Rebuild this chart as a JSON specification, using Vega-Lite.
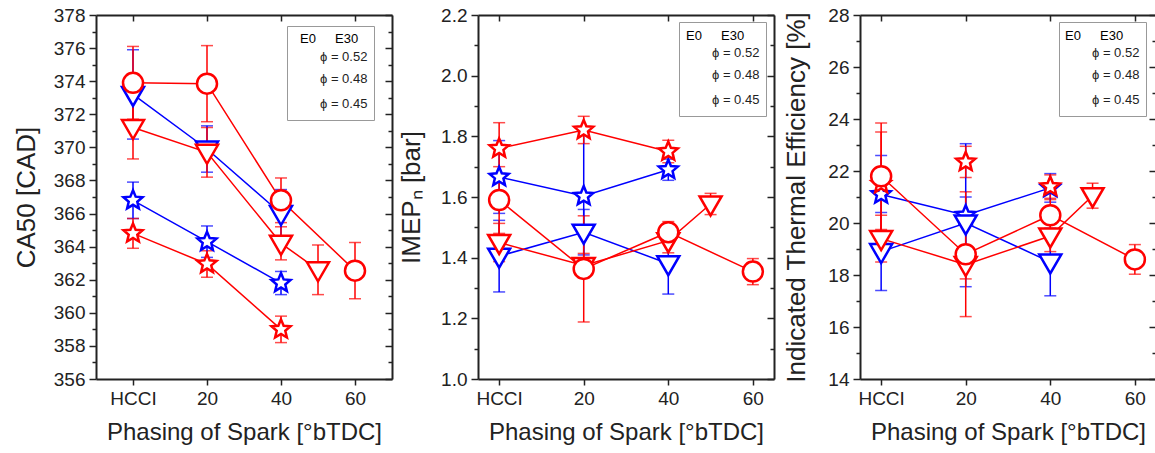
{
"$schema": "https://vega.github.io/schema/vega-lite/v6.json",
"background": "white",
"padding": {"left": 13, "top": 6, "right": 0, "bottom": 2},
"bounds": "flush",
"spacing": 86,
"config": {
  "font": "Liberation Sans",
  "view": {"stroke": null},
  "axis": {"labelFont": "Liberation Sans", "labelFontSize": 19, "labelColor": "#222", "titleFont": "Liberation Sans", "titleFontWeight": "normal", "titleColor": "#222", "domainColor": "#222", "domainWidth": 2, "tickColor": "#222", "tickWidth": 1.5, "grid": false, "labelOverlap": false, "labelFlush": false},
  "legend": {"labelFont": "Liberation Sans", "titleFont": "Liberation Sans"}
},
"datasets": {"d": [
  {"panel": "ca50", "fuel": "E0", "phi": "0.52", "x": 0, "v": 366.8, "e": 1.1},
  {"panel": "ca50", "fuel": "E0", "phi": "0.52", "x": 20, "v": 364.3, "e": 0.95},
  {"panel": "ca50", "fuel": "E0", "phi": "0.52", "x": 40, "v": 361.8, "e": 0.7},
  {"panel": "ca50", "fuel": "E0", "phi": "0.48", "x": 0, "v": 373.2, "e": 2.7},
  {"panel": "ca50", "fuel": "E0", "phi": "0.48", "x": 20, "v": 369.9, "e": 1.4},
  {"panel": "ca50", "fuel": "E0", "phi": "0.48", "x": 40, "v": 366.0, "e": 1.45},
  {"panel": "ca50", "fuel": "E30", "phi": "0.52", "x": 0, "v": 364.8, "e": 0.9},
  {"panel": "ca50", "fuel": "E30", "phi": "0.52", "x": 20, "v": 362.95, "e": 0.8},
  {"panel": "ca50", "fuel": "E30", "phi": "0.52", "x": 40, "v": 359.0, "e": 0.8},
  {"panel": "ca50", "fuel": "E30", "phi": "0.48", "x": 0, "v": 371.2, "e": 1.9},
  {"panel": "ca50", "fuel": "E30", "phi": "0.48", "x": 20, "v": 369.7, "e": 1.5},
  {"panel": "ca50", "fuel": "E30", "phi": "0.48", "x": 40, "v": 364.2, "e": 1.0},
  {"panel": "ca50", "fuel": "E30", "phi": "0.48", "x": 50, "v": 362.6, "e": 1.5},
  {"panel": "ca50", "fuel": "E30", "phi": "0.45", "x": 0, "v": 373.9, "e": 2.2},
  {"panel": "ca50", "fuel": "E30", "phi": "0.45", "x": 20, "v": 373.85, "e": 2.3},
  {"panel": "ca50", "fuel": "E30", "phi": "0.45", "x": 40, "v": 366.8, "e": 1.35},
  {"panel": "ca50", "fuel": "E30", "phi": "0.45", "x": 60, "v": 362.55, "e": 1.7},
  {"panel": "imep", "fuel": "E0", "phi": "0.52", "x": 0, "v": 1.666, "e": 0.12},
  {"panel": "imep", "fuel": "E0", "phi": "0.52", "x": 20, "v": 1.603, "e": 0.21},
  {"panel": "imep", "fuel": "E0", "phi": "0.52", "x": 40, "v": 1.69, "e": 0.035},
  {"panel": "imep", "fuel": "E0", "phi": "0.48", "x": 0, "v": 1.405, "e": 0.118},
  {"panel": "imep", "fuel": "E0", "phi": "0.48", "x": 20, "v": 1.484, "e": 0.075},
  {"panel": "imep", "fuel": "E0", "phi": "0.48", "x": 40, "v": 1.38, "e": 0.1},
  {"panel": "imep", "fuel": "E30", "phi": "0.52", "x": 0, "v": 1.76, "e": 0.085},
  {"panel": "imep", "fuel": "E30", "phi": "0.52", "x": 20, "v": 1.821, "e": 0.045},
  {"panel": "imep", "fuel": "E30", "phi": "0.52", "x": 40, "v": 1.75, "e": 0.037},
  {"panel": "imep", "fuel": "E30", "phi": "0.48", "x": 0, "v": 1.45, "e": 0.063},
  {"panel": "imep", "fuel": "E30", "phi": "0.48", "x": 20, "v": 1.374, "e": 0.04},
  {"panel": "imep", "fuel": "E30", "phi": "0.48", "x": 40, "v": 1.456, "e": 0.04},
  {"panel": "imep", "fuel": "E30", "phi": "0.48", "x": 50, "v": 1.577, "e": 0.035},
  {"panel": "imep", "fuel": "E30", "phi": "0.45", "x": 0, "v": 1.59, "e": 0.11},
  {"panel": "imep", "fuel": "E30", "phi": "0.45", "x": 20, "v": 1.363, "e": 0.175},
  {"panel": "imep", "fuel": "E30", "phi": "0.45", "x": 40, "v": 1.484, "e": 0.035},
  {"panel": "imep", "fuel": "E30", "phi": "0.45", "x": 60, "v": 1.354, "e": 0.043},
  {"panel": "ite", "fuel": "E0", "phi": "0.52", "x": 0, "v": 21.1, "e": 1.5},
  {"panel": "ite", "fuel": "E0", "phi": "0.52", "x": 20, "v": 20.3, "e": 2.75},
  {"panel": "ite", "fuel": "E0", "phi": "0.52", "x": 40, "v": 21.35, "e": 0.55},
  {"panel": "ite", "fuel": "E0", "phi": "0.48", "x": 0, "v": 18.9, "e": 1.5},
  {"panel": "ite", "fuel": "E0", "phi": "0.48", "x": 20, "v": 20.0, "e": 1.0},
  {"panel": "ite", "fuel": "E0", "phi": "0.48", "x": 40, "v": 18.5, "e": 1.3},
  {"panel": "ite", "fuel": "E30", "phi": "0.52", "x": 0, "v": 21.5, "e": 2.0},
  {"panel": "ite", "fuel": "E30", "phi": "0.52", "x": 20, "v": 22.35, "e": 0.6},
  {"panel": "ite", "fuel": "E30", "phi": "0.52", "x": 40, "v": 21.4, "e": 0.45},
  {"panel": "ite", "fuel": "E30", "phi": "0.48", "x": 0, "v": 19.4, "e": 0.9},
  {"panel": "ite", "fuel": "E30", "phi": "0.48", "x": 20, "v": 18.4, "e": 0.55},
  {"panel": "ite", "fuel": "E30", "phi": "0.48", "x": 40, "v": 19.5, "e": 0.6},
  {"panel": "ite", "fuel": "E30", "phi": "0.48", "x": 50, "v": 21.05, "e": 0.48},
  {"panel": "ite", "fuel": "E30", "phi": "0.45", "x": 0, "v": 21.8, "e": 2.05},
  {"panel": "ite", "fuel": "E30", "phi": "0.45", "x": 20, "v": 18.8, "e": 2.4},
  {"panel": "ite", "fuel": "E30", "phi": "0.45", "x": 40, "v": 20.3, "e": 0.6},
  {"panel": "ite", "fuel": "E30", "phi": "0.45", "x": 60, "v": 18.6, "e": 0.57}
]},
"resolve": {"scale": {"color": "independent", "shape": "independent"}, "legend": {"color": "independent", "shape": "independent"}},
"hconcat": [
{
  "width": 296, "height": 364,
  "data": {"name": "d"},
  "transform": [{"filter": "datum.panel == 'ca50'"}],
  "resolve": {"axis": {"x": "independent", "y": "independent"}, "legend": {"color": "independent"}},
  "layer": [
    {"mark": {"type": "errorbar", "thickness": 1.5, "ticks": {"size": 12, "thickness": 1.5}},
     "encoding": {
       "x": {"field": "x", "type": "quantitative", "scale": {"domain": [-10, 70], "nice": false, "zero": false},
             "axis": {"orient": "bottom", "values": [0, 20, 40, 60], "labelExpr": "datum.value == 0 ? 'HCCI' : datum.label", "title": "Phasing of Spark [°bTDC]", "titleFontSize": 24, "tickSize": 6, "labelPadding": 4, "titlePadding": 12}},
       "y": {"field": "v", "type": "quantitative", "scale": {"domain": [356, 378], "nice": false, "zero": false},
             "axis": {"orient": "left", "values": [356,357,358,359,360,361,362,363,364,365,366,367,368,369,370,371,372,373,374,375,376,377,378], "tickSize": {"condition": {"test": "datum.value % 2 == 0", "value": 7}, "value": 4}, "labelExpr": "datum.value % 2 == 0 ? datum.label : ''", "title": "CA50 [CAD]", "titleFontSize": 26, "labelPadding": 4, "titlePadding": 14}},
       "yError": {"field": "e"},
       "color": {"field": "fuel", "type": "nominal", "scale": {"domain": ["E0", "E30"], "range": ["#0000ff", "#ff0000"]}, "legend": null}
     }},
    {"mark": {"type": "line", "strokeWidth": 1.5},
     "encoding": {
       "x": {"field": "x", "type": "quantitative", "axis": null},
       "y": {"field": "v", "type": "quantitative", "axis": null},
       "color": {"field": "fuel", "type": "nominal", "legend": null},
       "detail": {"field": "phi"}
     }},
    {"mark": {"type": "point", "filled": false, "fill": "white", "size": 400, "strokeWidth": 2.5, "opacity": 1},
     "encoding": {
       "x": {"field": "x", "type": "quantitative", "axis": {"orient": "top", "values": [0, 20, 40, 60], "labels": false, "title": null, "tickSize": -6}},
       "y": {"field": "v", "type": "quantitative", "axis": {"orient": "right", "values": [356,357,358,359,360,361,362,363,364,365,366,367,368,369,370,371,372,373,374,375,376,377,378], "labels": false, "title": null, "tickSize": {"condition": {"test": "datum.value % 2 == 0", "value": -7}, "value": -4}}},
       "color": {"field": "fuel", "type": "nominal", "legend": {"orient": "none", "legendX": 191, "legendY": 17, "zindex": 3, "title": null, "direction": "horizontal", "symbolSize": 0, "symbolOpacity": 0, "symbolStrokeWidth": 0, "labelOffset": 0, "columnPadding": 6, "labelFontSize": 13, "padding": 0,
         "encode": {"symbols": {"size": {"value": 0}, "opacity": {"value": 0}}, "labels": {"fill": {"condition": {"test": "datum.value == 'E0'", "value": "#0000ff"}, "value": "#ff0000"}}}}},
       "shape": {"field": "phi", "type": "nominal", "scale": {"domain": ["0.52", "0.48", "0.45"], "range": ["M0,-1L0.265,-0.364L0.951,-0.309L0.428,0.139L0.588,0.809L0,0.45L-0.588,0.809L-0.428,0.139L-0.951,-0.309L-0.265,-0.364Z", "M-1.1,-0.75L1.1,-0.75L0,1.15Z", "M1,0A1,1,0,1,1,-1,0A1,1,0,1,1,1,0Z"]},
         "legend": {"orient": "none", "legendX": 191, "legendY": 11, "title": "\u00a0", "titleFontSize": 13, "titlePadding": 4, "strokeColor": "#999", "padding": 6, "labelExpr": "'ϕ = ' + datum.label", "labelFontSize": 13, "labelColor": "#222", "symbolSize": 169, "symbolStrokeWidth": 2, "symbolStrokeColor": "#ff0000", "symbolFillColor": "#ffffff", "rowPadding": 3, "labelOffset": 12}}
     }}
  ]
},
{
  "width": 296, "height": 364,
  "data": {"name": "d"},
  "transform": [{"filter": "datum.panel == 'imep'"}],
  "resolve": {"axis": {"x": "independent", "y": "independent"}, "legend": {"color": "independent"}},
  "layer": [
    {"mark": {"type": "errorbar", "thickness": 1.5, "ticks": {"size": 12, "thickness": 1.5}},
     "encoding": {
       "x": {"field": "x", "type": "quantitative", "scale": {"domain": [-5, 65], "nice": false, "zero": false},
             "axis": {"orient": "bottom", "values": [0, 20, 40, 60], "labelExpr": "datum.value == 0 ? 'HCCI' : datum.label", "title": "Phasing of Spark [°bTDC]", "titleFontSize": 24, "tickSize": 6, "labelPadding": 4, "titlePadding": 12}},
       "y": {"field": "v", "type": "quantitative", "scale": {"domain": [1.0, 2.2], "nice": false, "zero": false},
             "axis": {"orient": "left", "values": [1.0,1.1,1.2,1.3,1.4,1.5,1.6,1.7,1.8,1.9,2.0,2.1,2.2], "tickSize": {"condition": {"test": "round(datum.value * 10) % 2 == 0", "value": 7}, "value": 4}, "labelExpr": "round(datum.value * 10) % 2 == 0 ? format(datum.value, '.1f') : ''", "title": "IMEPₙ [bar]", "titleFontSize": 26, "labelPadding": 4, "titlePadding": 16}},
       "yError": {"field": "e"},
       "color": {"field": "fuel", "type": "nominal", "scale": {"domain": ["E0", "E30"], "range": ["#0000ff", "#ff0000"]}, "legend": null}
     }},
    {"mark": {"type": "line", "strokeWidth": 1.5},
     "encoding": {
       "x": {"field": "x", "type": "quantitative", "axis": null},
       "y": {"field": "v", "type": "quantitative", "axis": null},
       "color": {"field": "fuel", "type": "nominal", "legend": null},
       "detail": {"field": "phi"}
     }},
    {"mark": {"type": "point", "filled": false, "fill": "white", "size": 400, "strokeWidth": 2.5, "opacity": 1},
     "encoding": {
       "x": {"field": "x", "type": "quantitative", "axis": {"orient": "top", "values": [0, 20, 40, 60], "labels": false, "title": null, "tickSize": -6}},
       "y": {"field": "v", "type": "quantitative", "axis": {"orient": "right", "values": [1.0,1.1,1.2,1.3,1.4,1.5,1.6,1.7,1.8,1.9,2.0,2.1,2.2], "labels": false, "title": null, "tickSize": {"condition": {"test": "round(datum.value * 10) % 2 == 0", "value": -7}, "value": -4}}},
       "color": {"field": "fuel", "type": "nominal", "legend": {"orient": "none", "legendX": 195, "legendY": 14, "zindex": 3, "title": null, "direction": "horizontal", "symbolSize": 0, "symbolOpacity": 0, "symbolStrokeWidth": 0, "labelOffset": 0, "columnPadding": 6, "labelFontSize": 13, "padding": 0,
         "encode": {"symbols": {"size": {"value": 0}, "opacity": {"value": 0}}, "labels": {"fill": {"condition": {"test": "datum.value == 'E0'", "value": "#0000ff"}, "value": "#ff0000"}}}}},
       "shape": {"field": "phi", "type": "nominal", "scale": {"domain": ["0.52", "0.48", "0.45"], "range": ["M0,-1L0.265,-0.364L0.951,-0.309L0.428,0.139L0.588,0.809L0,0.45L-0.588,0.809L-0.428,0.139L-0.951,-0.309L-0.265,-0.364Z", "M-1.1,-0.75L1.1,-0.75L0,1.15Z", "M1,0A1,1,0,1,1,-1,0A1,1,0,1,1,1,0Z"]},
         "legend": {"orient": "none", "legendX": 201, "legendY": 7, "title": "\u00a0", "titleFontSize": 13, "titlePadding": 4, "strokeColor": "#999", "padding": 6, "labelExpr": "'ϕ = ' + datum.label", "labelFontSize": 13, "labelColor": "#222", "symbolSize": 169, "symbolStrokeWidth": 2, "symbolStrokeColor": "#ff0000", "symbolFillColor": "#ffffff", "rowPadding": 3, "labelOffset": 12}}
     }}
  ]
},
{
  "width": 296, "height": 364,
  "data": {"name": "d"},
  "transform": [{"filter": "datum.panel == 'ite'"}],
  "resolve": {"axis": {"x": "independent", "y": "independent"}, "legend": {"color": "independent"}},
  "layer": [
    {"mark": {"type": "errorbar", "thickness": 1.5, "ticks": {"size": 12, "thickness": 1.5}},
     "encoding": {
       "x": {"field": "x", "type": "quantitative", "scale": {"domain": [-5, 65], "nice": false, "zero": false},
             "axis": {"orient": "bottom", "values": [0, 20, 40, 60], "labelExpr": "datum.value == 0 ? 'HCCI' : datum.label", "title": "Phasing of Spark [°bTDC]", "titleFontSize": 24, "tickSize": 6, "labelPadding": 4, "titlePadding": 12}},
       "y": {"field": "v", "type": "quantitative", "scale": {"domain": [14, 28], "nice": false, "zero": false},
             "axis": {"orient": "left", "values": [14,15,16,17,18,19,20,21,22,23,24,25,26,27,28], "tickSize": {"condition": {"test": "datum.value % 2 == 0", "value": 7}, "value": 4}, "labelExpr": "datum.value % 2 == 0 ? datum.label : ''", "title": "Indicated Thermal Efficiency [%]", "titleFontSize": 26, "labelPadding": 4, "titlePadding": 18}},
       "yError": {"field": "e"},
       "color": {"field": "fuel", "type": "nominal", "scale": {"domain": ["E0", "E30"], "range": ["#0000ff", "#ff0000"]}, "legend": null}
     }},
    {"transform": [{"filter": "!(datum.fuel == 'E30' && datum.phi == '0.52')"}],
     "mark": {"type": "line", "strokeWidth": 1.5},
     "encoding": {
       "x": {"field": "x", "type": "quantitative", "axis": null},
       "y": {"field": "v", "type": "quantitative", "axis": null},
       "color": {"field": "fuel", "type": "nominal", "legend": null},
       "detail": {"field": "phi"}
     }},
    {"mark": {"type": "point", "filled": false, "fill": "white", "size": 400, "strokeWidth": 2.5, "opacity": 1},
     "encoding": {
       "x": {"field": "x", "type": "quantitative", "axis": {"orient": "top", "values": [0, 20, 40, 60], "labels": false, "title": null, "tickSize": -6}},
       "y": {"field": "v", "type": "quantitative", "axis": {"orient": "right", "values": [14,15,16,17,18,19,20,21,22,23,24,25,26,27,28], "labels": false, "title": null, "tickSize": {"condition": {"test": "datum.value % 2 == 0", "value": -7}, "value": -4}}},
       "color": {"field": "fuel", "type": "nominal", "legend": {"orient": "none", "legendX": 192, "legendY": 14, "zindex": 3, "title": null, "direction": "horizontal", "symbolSize": 0, "symbolOpacity": 0, "symbolStrokeWidth": 0, "labelOffset": 0, "columnPadding": 6, "labelFontSize": 13, "padding": 0,
         "encode": {"symbols": {"size": {"value": 0}, "opacity": {"value": 0}}, "labels": {"fill": {"condition": {"test": "datum.value == 'E0'", "value": "#0000ff"}, "value": "#ff0000"}}}}},
       "shape": {"field": "phi", "type": "nominal", "scale": {"domain": ["0.52", "0.48", "0.45"], "range": ["M0,-1L0.265,-0.364L0.951,-0.309L0.428,0.139L0.588,0.809L0,0.45L-0.588,0.809L-0.428,0.139L-0.951,-0.309L-0.265,-0.364Z", "M-1.1,-0.75L1.1,-0.75L0,1.15Z", "M1,0A1,1,0,1,1,-1,0A1,1,0,1,1,1,0Z"]},
         "legend": {"orient": "none", "legendX": 199, "legendY": 7, "title": "\u00a0", "titleFontSize": 13, "titlePadding": 4, "strokeColor": "#999", "padding": 6, "labelExpr": "'ϕ = ' + datum.label", "labelFontSize": 13, "labelColor": "#222", "symbolSize": 169, "symbolStrokeWidth": 2, "symbolStrokeColor": "#ff0000", "symbolFillColor": "#ffffff", "rowPadding": 3, "labelOffset": 12}}
     }}
  ]
}
]
}
